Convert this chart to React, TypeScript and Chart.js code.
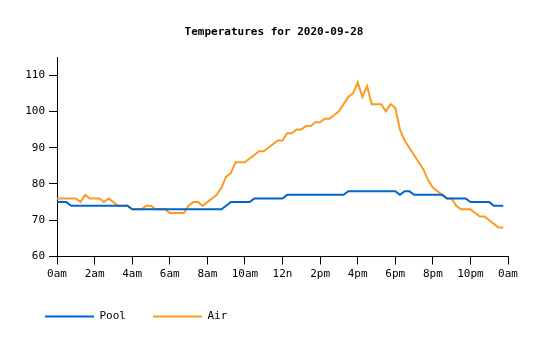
import React, { useEffect, useRef } from "react";
import { Chart, registerables } from "chart.js";

Chart.register(...registerables);

const TITLE = "Temperatures for 2020-09-28";
const SAMPLE_HOURS = 0.25; // one reading every 15 minutes

const hourTickLabels = ["0am", "2am", "4am", "6am", "8am", "10am", "12n", "2pm", "4pm", "6pm", "8pm", "10pm", "0am"];

const poolTemps = [
  75, 75, 75, 74, 74, 74, 74, 74, 74, 74,
  74, 74, 74, 74, 74, 74, 73, 73, 73, 73,
  73, 73, 73, 73, 73, 73, 73, 73, 73, 73,
  73, 73, 73, 73, 73, 73, 74, 75, 75, 75,
  75, 75, 76, 76, 76, 76, 76, 76, 76, 77,
  77, 77, 77, 77, 77, 77, 77, 77, 77, 77,
  77, 77, 78, 78, 78, 78, 78, 78, 78, 78,
  78, 78, 78, 77, 78, 78, 77, 77, 77, 77,
  77, 77, 77, 76, 76, 76, 76, 76, 75, 75,
  75, 75, 75, 74, 74, 74,
];

const airTemps = [
  76, 76, 76, 76, 76, 75, 77, 76, 76, 76,
  75, 76, 75, 74, 74, 74, 73, 73, 73, 74,
  74, 73, 73, 73, 72, 72, 72, 72, 74, 75,
  75, 74, 75, 76, 77, 79, 82, 83, 86, 86,
  86, 87, 88, 89, 89, 90, 91, 92, 92, 94,
  94, 95, 95, 96, 96, 97, 97, 98, 98, 99,
  100, 102, 104, 105, 108, 104, 107, 102, 102, 102,
  100, 102, 101, 95, 92, 90, 88, 86, 84, 81,
  79, 78, 77, 76, 76, 74, 73, 73, 73, 72,
  71, 71, 70, 69, 68, 68,
];

const seriesNames = ["Pool", "Air"];
const seriesColors = ["#0066cc", "#ff9922"];

const toPoints = (vals: number[]) => vals.map((v, i) => ({ x: i * SAMPLE_HOURS, y: v }));

const titleShift = {
  id: "titleShift",
  afterLayout(chart: any) {
    const t = chart.titleBlock;
    if (t) {
      t.left += 11;
      t.right += 11;
    }
  },
};

export default function App() {
  const ref = useRef<HTMLCanvasElement | null>(null);

  useEffect(() => {
    if (!ref.current) return;
    const font = { family: "'DejaVu Sans Mono', monospace", size: 11 };
    const chart = new Chart(ref.current, {
      type: "line",
      data: {
        datasets: [
          {
            label: seriesNames[0],
            data: toPoints(poolTemps),
            borderColor: seriesColors[0],
            backgroundColor: seriesColors[0],
            borderWidth: 2,
            pointRadius: 0,
            tension: 0,
          },
          {
            label: seriesNames[1],
            data: toPoints(airTemps),
            borderColor: seriesColors[1],
            backgroundColor: seriesColors[1],
            borderWidth: 2,
            pointRadius: 0,
            tension: 0,
          },
        ],
      },
      options: {
        animation: false,
        responsive: false,
        layout: { padding: { left: 10, right: 24, top: 0, bottom: 0 } },
        font,
        color: "#000",
        plugins: {
          title: {
            display: true,
            text: TITLE,
            color: "#000",
            font: { ...font, weight: "bold" },
            padding: { top: 17.4, bottom: 18.4 },
          },
          legend: {
            position: "bottom",
            align: "start",
            maxHeight: 48.5,
            labels: {
              usePointStyle: true,
              pointStyle: "line",
              pointStyleWidth: 49,
              padding: 27,
              color: "#000",
              font,
            },
          },
          tooltip: { enabled: false },
        },
        scales: {
          x: {
            type: "linear",
            min: 0,
            max: 24,
            border: { color: "#000", width: 1 },
            grid: { drawOnChartArea: false, color: "#000", tickLength: 8 },
            ticks: {
              stepSize: 2,
              padding: 3,
              color: "#000",
              font,
              maxRotation: 0,
              autoSkip: false,
              callback: (v: any) => hourTickLabels[Math.round(Number(v) / 2)],
            },
            afterFit: (s: any) => {
              s.height = 27.5;
            },
          },
          y: {
            min: 60,
            max: 115,
            border: { color: "#000", width: 1 },
            grid: { drawOnChartArea: false, color: "#000", tickLength: 8 },
            ticks: { stepSize: 10, includeBounds: false, padding: 4, color: "#000", font },
            afterFit: (s: any) => {
              s.width = 39;
            },
          },
        },
      },
      plugins: [titleShift],
    } as any);
    return () => chart.destroy();
  }, []);

  return (
    <div>
      <canvas ref={ref} width={524} height={324} style={{ display: "block" }} />
    </div>
  );
}
